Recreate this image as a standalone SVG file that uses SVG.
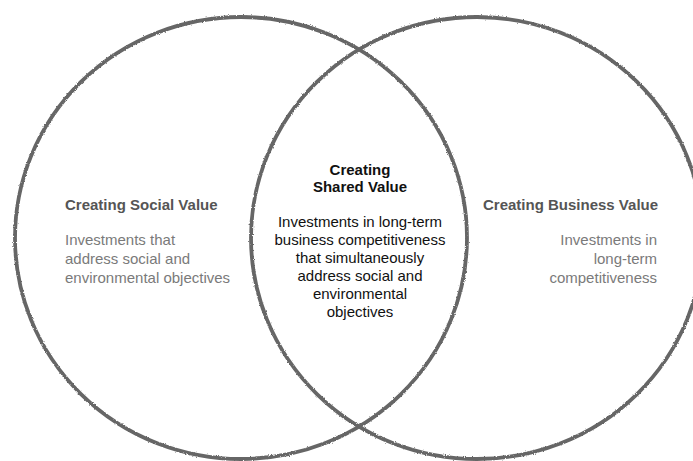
<svg xmlns="http://www.w3.org/2000/svg" width="693" height="461" viewBox="0 0 693 461">
  <style>
    .ring { fill: none; stroke: #666666; stroke-width: 3.8; filter: url(#pencil); }
    .t { font-family: "Liberation Sans", Arial, Helvetica, sans-serif; font-size: 15px; }
    .side-title { font-weight: bold; fill: #555555; }
    .side-body { fill: #7a7a7a; }
    .mid-title { font-weight: bold; fill: #111111; text-anchor: middle; }
    .mid-body { fill: #111111; text-anchor: middle; }
    .right { text-anchor: end; }
  </style>
  <defs>
    <!-- slightly ragged, grainy pencil stroke -->
    <filter id="pencil" x="-5%" y="-5%" width="110%" height="110%">
      <feTurbulence type="fractalNoise" baseFrequency="0.9" numOctaves="2" seed="3" result="noise"/>
      <feDisplacementMap in="SourceGraphic" in2="noise" scale="2.4" xChannelSelector="R" yChannelSelector="G"/>
    </filter>
  </defs>
  <rect width="693" height="461" fill="#ffffff"/>

  <g id="social-value">
    <ellipse class="ring" cx="241" cy="238" rx="226" ry="221"/>
    <text class="t side-title" x="65" y="210">Creating Social Value</text>
    <text class="t side-body" x="65" y="245">Investments that</text>
    <text class="t side-body" x="65" y="264">address social and</text>
    <text class="t side-body" x="65" y="283">environmental objectives</text>
  </g>

  <g id="business-value">
    <ellipse class="ring" cx="477" cy="238" rx="226" ry="221"/>
    <text class="t side-title" x="483" y="210">Creating Business Value</text>
    <text class="t side-body right" x="657" y="245">Investments in</text>
    <text class="t side-body right" x="657" y="264">long-term</text>
    <text class="t side-body right" x="657" y="283">competitiveness</text>
  </g>

  <g id="shared-value">
    <text class="t mid-title" x="360" y="175">Creating</text>
    <text class="t mid-title" x="360" y="192">Shared Value</text>
    <text class="t mid-body" x="360" y="227">Investments in long-term</text>
    <text class="t mid-body" x="360" y="245">business competitiveness</text>
    <text class="t mid-body" x="360" y="263">that simultaneously</text>
    <text class="t mid-body" x="360" y="281">address social and</text>
    <text class="t mid-body" x="360" y="299">environmental</text>
    <text class="t mid-body" x="360" y="317">objectives</text>
  </g>
</svg>
